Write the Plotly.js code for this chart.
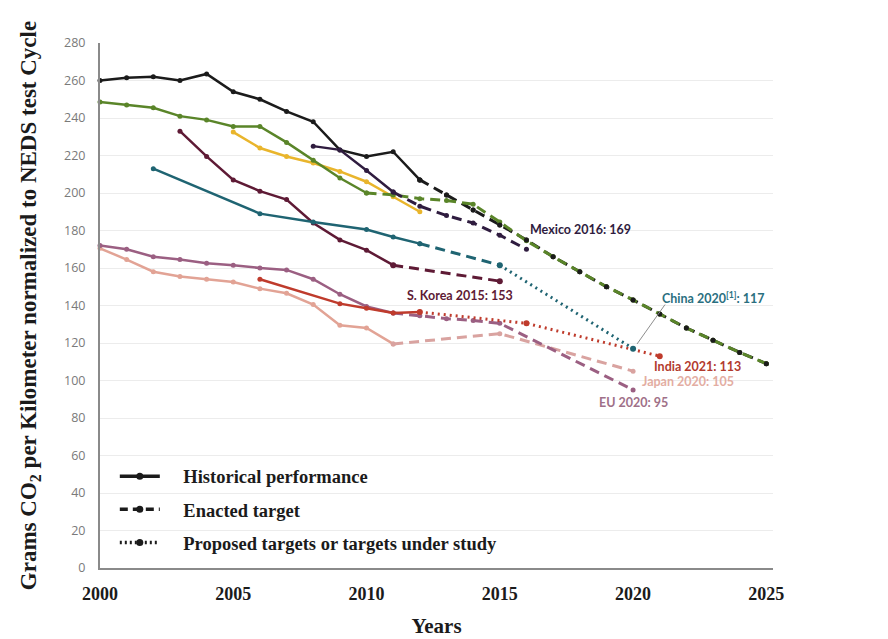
<!DOCTYPE html>
<html>
<head>
<meta charset="utf-8">
<script src="https://cdn.plot.ly/plotly-3.0.1.min.js"></script>
<style>html,body{margin:0;padding:0;background:#fff;}#chart{width:888px;height:639px;}</style>
</head>
<body>
<div id="chart"></div>
<script>
// ---- data ----
const usHistYears   = [2000,2001,2002,2003,2004,2005,2006,2007,2008,2009,2010,2011,2012];
const usHistVals    = [260,261.5,262,260,263.5,254,250,243.5,238,223,219.5,222,207];
const usEnactYears  = [2012,2013,2014,2015,2016,2017,2018,2019,2020,2021,2022,2023,2024,2025];
const usEnactVals   = [207,199,191,183,175,166,158,150,143,135.5,128,121.5,115,109];

const caHistYears   = [2000,2001,2002,2003,2004,2005,2006,2007,2008,2009,2010];
const caHistVals    = [248.5,247,245.5,241,239,235.5,235.5,227,217.5,208,200];
const caEnactYears  = [2010,2011,2012,2013,2014,2015,2016,2017,2018,2019,2020,2021,2022,2023,2024,2025];
const caEnactVals   = [200,199,197,196,194,184.5,174.5,166,158,150,143,135.5,128,121.5,115,109];

const mxHistYears   = [2008,2009,2010,2011];
const mxHistVals    = [225,223,212,200.5];
const mxEnactYears  = [2011,2012,2013,2014,2015,2016];
const mxEnactVals   = [200.5,193,188,184,177.5,170];

const auHistYears   = [2005,2006,2007,2008,2009,2010,2011,2012];
const auHistVals    = [232.5,224,219.5,216,211.5,206,198,190];

const krHistYears   = [2003,2004,2005,2006,2007,2008,2009,2010,2011];
const krHistVals    = [233,219.5,207,201,196.5,184,175,169.5,161.5];
const krEnactYears  = [2011,2015];
const krEnactVals   = [161.5,153];

const cnHistYears   = [2002,2006,2008,2010,2011,2012];
const cnHistVals    = [213,189,184.5,180.5,176.5,173];
const cnEnactYears  = [2012,2015];
const cnEnactVals   = [173,161.5];
const cnPropYears   = [2015,2020];
const cnPropVals    = [161.5,117];

const euHistYears   = [2000,2001,2002,2003,2004,2005,2006,2007,2008,2009,2010,2011];
const euHistVals    = [172,170,166,164.5,162.5,161.5,160,159,154,146,139.5,136];
const euEnactYears  = [2011,2012,2013,2014,2015,2020];
const euEnactVals   = [136,134.5,133,132,130.5,95];

const jpHistYears   = [2000,2001,2002,2003,2004,2005,2006,2007,2008,2009,2010,2011];
const jpHistVals    = [170.5,164.5,158,155.5,154,152.5,149,146.5,140.5,129.5,128,119.5];
const jpEnactYears  = [2011,2015,2020];
const jpEnactVals   = [119.5,125,105];

const inHistYears   = [2006,2009,2010,2011,2012];
const inHistVals    = [154,141,138.5,136,136.5];
const inPropYears   = [2012,2016,2021];
const inPropVals    = [136.5,130.5,113];

const xTicks  = [2000,2005,2010,2015,2020,2025];
const yTicks  = [0,20,40,60,80,100,120,140,160,180,200,220,240,260,280];

const legendNames = ['Historical performance','Enacted target','Proposed targets or targets under study'];

// ---- styles ----
const C = {
  us:'#1b1b1b', ca:'#5a8529', mx:'#2f1c3f', au:'#e9b52c', kr:'#5e1a35',
  cn:'#1f6472', eu:'#9b5f82', jp:'#e2a395', jpd:'#d9a3a0', in:'#bf3b2c'
};
const DASH = '10px,6px';
const DOT  = '2px,4px';

function tr(x, y, color, dash, width, msize, mode){
  return {x:x, y:y, type:'scatter', mode:mode || 'lines+markers', showlegend:false,
    cliponaxis:false, hoverinfo:'skip',
    line:{color:color, width:width, dash:dash},
    marker:{color:color, size:msize}};
}

const traces = [
  tr(jpHistYears, jpHistVals, C.jp, 'solid', 2.5, 5),
  tr(jpEnactYears, jpEnactVals, C.jpd, DASH, 3, 5),
  tr(euHistYears, euHistVals, C.eu, 'solid', 2.5, 5),
  tr(euEnactYears, euEnactVals, C.eu, DASH, 3, 5),
  tr(inHistYears, inHistVals, C.in, 'solid', 2.5, 5),
  tr(inPropYears, inPropVals, C.in, DOT, 3, 6),
  tr(krHistYears, krHistVals, C.kr, 'solid', 2.5, 5),
  tr(krEnactYears, krEnactVals, C.kr, DASH, 3, 6),
  tr(cnHistYears, cnHistVals, C.cn, 'solid', 2.5, 5),
  tr(cnEnactYears, cnEnactVals, C.cn, DASH, 3, 5),
  tr(cnPropYears, cnPropVals, C.cn, DOT, 3, 6),
  tr(auHistYears, auHistVals, C.au, 'solid', 2.5, 5),
  tr(caHistYears, caHistVals, C.ca, 'solid', 2.5, 5),
  tr(usHistYears, usHistVals, C.us, 'solid', 2.5, 5),
  tr(usEnactYears, usEnactVals, C.us, DASH, 3, 5),
  tr(caEnactYears, caEnactVals, C.ca, DASH, 3, 5),
  tr(usEnactYears, usEnactVals, C.us, 'solid', 0, 5, 'markers'),
  tr(mxHistYears, mxHistVals, C.mx, 'solid', 2.5, 5),
  tr(mxEnactYears, mxEnactVals, C.mx, DASH, 3, 5)
];

// legend entries
const legDash = ['solid', '8px,5px', '2px,3px'];
const pad = '\u00a0\u00a0\u00a0\u00a0';
legendNames.forEach(function(n, i){
  traces.push({x:[null], y:[null], type:'scatter', mode:'lines+markers', name:pad + n,
    legendgroup:'g'+i, showlegend:true,
    line:{color:'#1b1b1b', width:3.5, dash:legDash[i]},
    marker:{color:'#1b1b1b', size:7}});
});

const labFont = function(c){ return {family:'Lato, "Open Sans", sans-serif', size:12.5, color:c, weight:'bold'}; };
function lab(x, y, t, c){
  return {x:x, y:y, xref:'x', yref:'y', text:t, showarrow:false, xanchor:'left', yanchor:'middle', font:labFont(c)};
}

const layout = {
  width:888, height:639,
  margin:{l:100, r:115, t:43, b:71},
  paper_bgcolor:'#fff', plot_bgcolor:'#fff',
  showlegend:true,
  legend:{x:0.022, y:0.21, xanchor:'left', yanchor:'top', bgcolor:'rgba(0,0,0,0)',
    traceorder:'grouped', tracegroupgap:6, itemwidth:40,
    font:{family:'"Liberation Serif", "DejaVu Serif", serif', size:18.5, color:'#1b1b1b', weight:'bold'}},
  xaxis:{range:[2000, 2025.25], tickvals:xTicks, ticktext:xTicks.map(String),
    showgrid:false, zeroline:false, showline:true, linecolor:'#8a8a8a', linewidth:2,
    ticks:'', ticklabelstandoff:8,
    tickfont:{family:'"Liberation Serif", serif', size:18, color:'#1b1b1b', weight:'bold'},
    title:{text:'Years', standoff:16, font:{family:'"Liberation Serif", serif', size:21, color:'#1b1b1b', weight:'bold'}}},
  yaxis:{range:[0, 280], tickvals:yTicks, ticktext:yTicks.map(String),
    showgrid:true, gridcolor:'#ececec', gridwidth:1, zeroline:false,
    showline:true, linecolor:'#8a8a8a', linewidth:2, ticks:'', ticklabelstandoff:10,
    tickfont:{family:'"Open Sans", sans-serif', size:12.5, color:'#7a7a7a'},
    title:{text:'Grams CO<sub>2</sub> per Kilometer normalized to NEDS test Cycle', standoff:21,
      font:{family:'"Liberation Serif", serif', size:23, color:'#1b1b1b', weight:'bold'}}},
  shapes:[{type:'line', xref:'x', yref:'y', x0:2020.15, y0:119.5, x1:2021.2, y1:140.5,
    line:{color:'#8d8d8d', width:1}}],
  annotations:[
    lab(2016.05, 180.8, 'Mexico 2016: 169', C.mx),
    lab(2011.45, 145.6, 'S. Korea 2015: 153', C.kr),
    lab(2021.0, 144.3, 'China 2020<sup>[1]</sup>: 117', '#2a6f80'),
    lab(2020.7, 107.6, 'India 2021: 113', '#b23a2e'),
    lab(2020.25, 99.4, 'Japan 2020: 105', '#e3ada2'),
    lab(2018.65, 88.4, 'EU 2020: 95', '#a07088'),
    lab(2025.4, 109.3, 'US 2025<sup>[2]</sup>:109', '#222222'),
    lab(2025.42, 98.6, 'Canada 2025: 109', '#6b7d2c')
  ]
};

Plotly.newPlot('chart', traces, layout, {displayModeBar:false, staticPlot:true});
</script>
</body>
</html>
